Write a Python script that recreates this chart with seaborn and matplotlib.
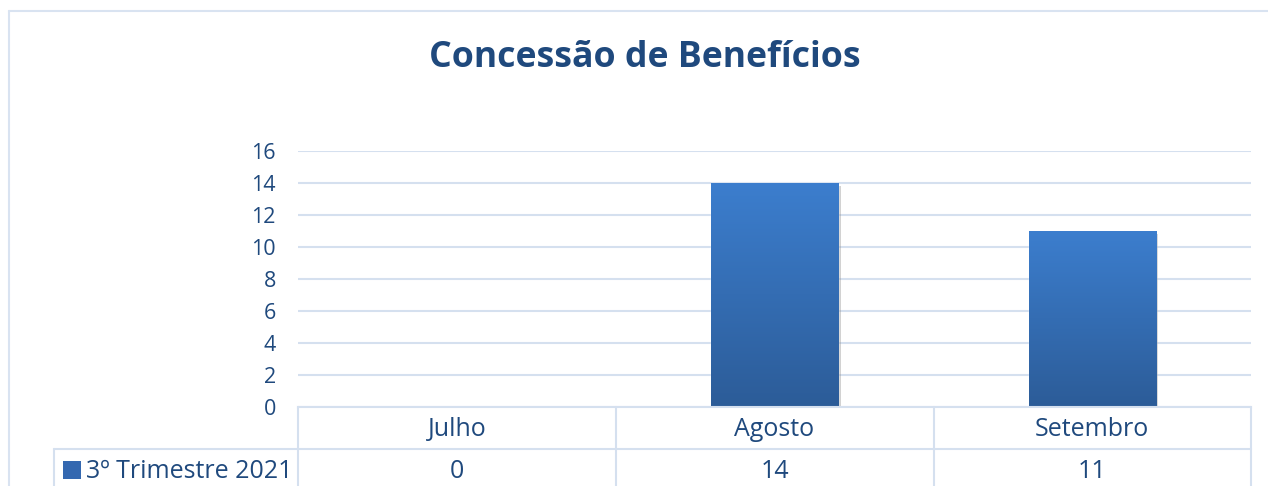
import numpy as np
import pandas as pd
import matplotlib
matplotlib.use("Agg")
import matplotlib.pyplot as plt
import matplotlib.patheffects as pe
from matplotlib.lines import Line2D
from matplotlib.patches import Rectangle
import seaborn as sns

# ---- data ----
categories = ["Julho", "Agosto", "Setembro"]
values = [0, 14, 11]
series_name = "3º Trimestre 2021"
title = "Concessão de Benefícios"
yticks = [0, 2, 4, 6, 8, 10, 12, 14, 16]

W, H = 1268, 486
sns.set_theme(style="white")
plt.rcParams['font.family'] = ['Open Sans', 'DejaVu Sans']

TXT = "#1F497D"
GRID = "#D5E0EF"
TOP_C = np.array([0x3C, 0x7E, 0xCE]) / 255
BOT_C = np.array([0x2C, 0x5C, 0x98]) / 255
FS_TICK = 15.5
FS_TAB = 18

fig = plt.figure(figsize=(W / 100, H / 100), dpi=100)
fig.patch.set_facecolor("white")

def fx(x):
    return x / W

def fy(y):
    return 1 - y / H

# axes placement
x0, x1, ytop, ybot = 298, 1251, 151, 407
ax = fig.add_axes([fx(x0), fy(ybot), fx(x1) - fx(x0), (ybot - ytop) / H])

df = pd.DataFrame({"cat": categories, "val": values})
sns.barplot(data=df, x="cat", y="val", ax=ax, width=0.4, color=BOT_C,
            saturation=1, errorbar=None)

ax.set_ylim(0, 16)
ax.set_xlim(-0.5, len(categories) - 0.5)
ax.set_yticks(yticks)
ax.set_yticklabels([str(t) for t in yticks], color=TXT, fontsize=FS_TICK)
ax.tick_params(axis="y", length=0, pad=16)
ax.set_xlabel("")
ax.set_ylabel("")
ax.set_xticks(range(len(categories)))
ax.set_xticklabels(categories, color=TXT, fontsize=FS_TAB, va="center")
ax.tick_params(axis="x", length=0, pad=16)
ax.grid(axis="y", color=GRID, linewidth=1.5)
ax.set_axisbelow(True)
for s in ["top", "right", "left"]:
    ax.spines[s].set_visible(False)
ax.spines["bottom"].set_color(GRID)
ax.spines["bottom"].set_linewidth(1.5)

# gradient fill for bars
grad = np.linspace(0, 1, 256)[:, None]
img = TOP_C[None, None, :] * (1 - grad[..., None]) + BOT_C[None, None, :] * grad[..., None]
img = np.repeat(img, 2, axis=1)
for p in ax.patches:
    h = p.get_height()
    if h <= 0:
        p.set_visible(False)
        continue
    p.set_path_effects([pe.SimplePatchShadow(offset=(2, -2), alpha=0.35, shadow_rgbFace="gray"),
                        pe.Normal()])
    bx, bw = p.get_x(), p.get_width()
    im = ax.imshow(img, extent=[bx, bx + bw, 0, h], aspect="auto", zorder=p.get_zorder() + 0.1,
                   origin="upper")
    im.set_clip_path(p)
ax.set_xlim(-0.5, len(categories) - 0.5)
ax.set_ylim(0, 16)

# title
fig.text(fx(645), fy(58), title, ha="center", va="center", color=TXT,
         fontsize=25.7, fontweight="bold")

# outer chart border
fig.add_artist(Line2D([fx(9), fx(W)], [fy(11), fy(11)], color="#D9E3F1", lw=1.5))
fig.add_artist(Line2D([fx(9), fx(9)], [fy(11), fy(H)], color="#D9E3F1", lw=1.5))

# data table
cols = [298, 616, 934, 1251]
for cx in cols:
    fig.add_artist(Line2D([fx(cx), fx(cx)], [fy(407), fy(H)], color=GRID, lw=1.5))
fig.add_artist(Line2D([fx(54), fx(54)], [fy(449), fy(H)], color=GRID, lw=1.5))
fig.add_artist(Line2D([fx(54), fx(1251)], [fy(449), fy(449)], color=GRID, lw=1.5))

for i, v in enumerate(values):
    cx = (cols[i] + cols[i + 1]) / 2
    fig.text(fx(cx), fy(471), str(v), ha="center", va="center", color=TXT, fontsize=FS_TAB)

# legend key
key = Rectangle((fx(63), fy(479)), fx(81) - fx(63), (479 - 461) / H,
                transform=fig.transFigure, facecolor="#3468B0", edgecolor="none")
fig.add_artist(key)
fig.text(fx(86), fy(471), series_name, ha="left", va="center", color=TXT, fontsize=FS_TAB)

fig.savefig("out.png", dpi=100)
